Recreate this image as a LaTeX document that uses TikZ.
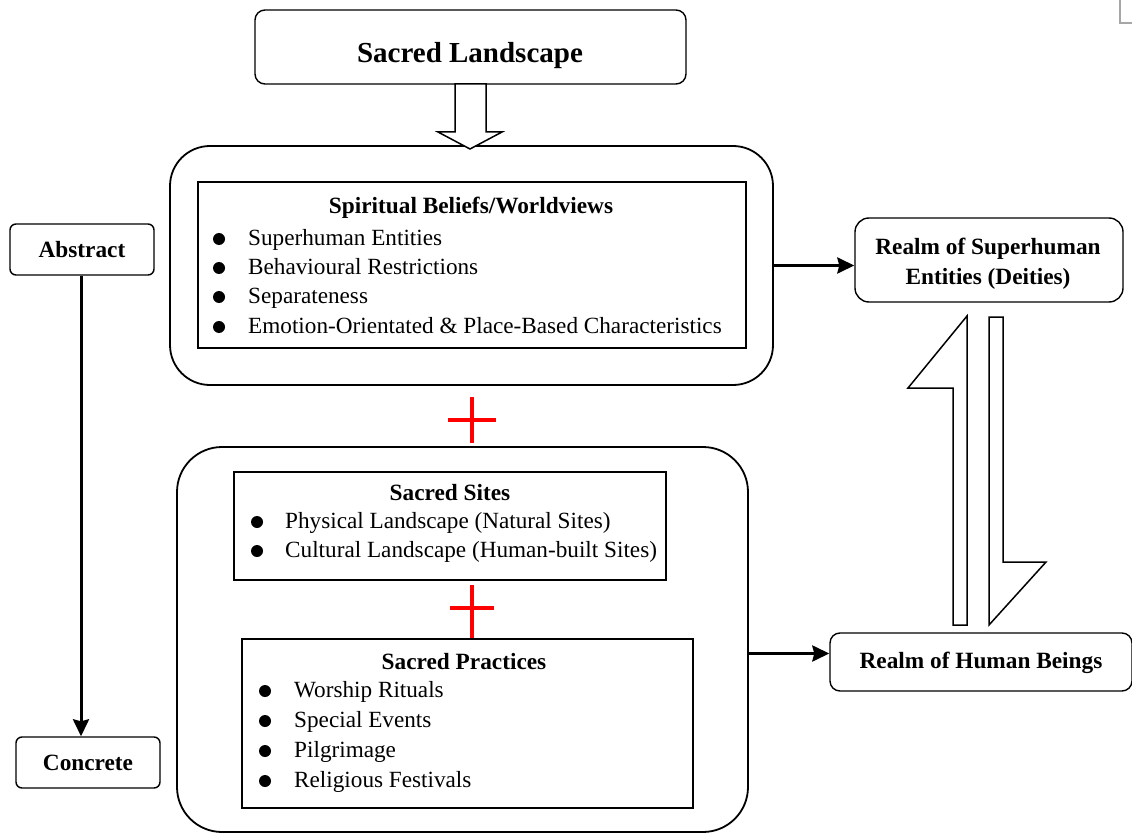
\documentclass[tikz,border=0pt]{standalone}
\usepackage{fontspec}
\setmainfont{Liberation Serif}
\usetikzlibrary{arrows.meta}
\begin{document}
\begin{tikzpicture}[x=1pt,y=-1pt,
  bigbox/.style={draw, line width=1.8pt, rounded corners=40pt, inner sep=0pt},
  rbox/.style={draw, line width=1.4pt, rounded corners=10pt, inner sep=0pt, fill=white},
  ibox/.style={draw, line width=1.3pt, inner sep=0pt},
  ttl/.style={font=\fontsize{23.3}{29}\selectfont\bfseries, inner sep=0pt, align=center, text height=16pt, text depth=0pt},
  itm/.style={font=\fontsize{23.2}{29}\selectfont, inner sep=0pt, anchor=west, text height=15pt, text depth=0pt},
  arr/.style={line width=3pt, -{Stealth[length=17pt,width=16pt,inset=2pt]}},
  hollow/.style={draw, line width=1.5pt, fill=white, line join=miter},
  plus/.style={draw=red, line width=4pt}
]
\useasboundingbox (0,0) rectangle (1132,834);

% top box
\node[rbox, minimum width=431pt, minimum height=74pt] (top) at (470.5,47) {};
\node[font=\fontsize{29}{32}\selectfont\bfseries, inner sep=0pt, text height=19pt, text depth=0pt] (topt) at (470,53) {Sacred Landscape};

% big boxes
\node[bigbox, minimum width=603pt, minimum height=239pt] (big1) at (471.5,265.5) {};
\node[bigbox, rounded corners=45pt, minimum width=571pt, minimum height=385pt] (big2) at (462.5,639.5) {};

% hollow arrow top
\draw[hollow] (455,84) -- (486,84) -- (486,132) -- (502,132) -- (470,149) -- (438,132) -- (455,132) -- cycle;

% inner box 1
\node[ibox, minimum width=548pt, minimum height=166pt] (sb) at (472,265) {};
\node[ttl] (sbt) at (471,206) {Spiritual Beliefs/Worldviews};
\foreach \y/\t [count=\i] in {238/Superhuman Entities, 267/Behavioural Restrictions, 296/Separateness, 326/Emotion-Orientated \& Place-Based Characteristics}{
  \fill (219,\y+1) circle (6pt);
  \node[itm] (sb\i) at (248,\y) {\t};
}

% plus 1
\draw[plus] (448,420) -- (496,420);
\draw[plus] (472,397) -- (472,443);

% Sacred sites
\node[ibox, minimum width=432pt, minimum height=108pt] (ss) at (450,526) {};
\node[ttl] (sst) at (450,492) {Sacred Sites};
\foreach \y/\t [count=\i] in {521/Physical Landscape (Natural Sites), 550/Cultural Landscape (Human-built Sites)}{
  \fill (257,\y+1) circle (6pt);
  \node[itm] (ss\i) at (285,\y) {\t};
}

% plus 2
\draw[plus] (450,608) -- (494,608);
\draw[plus] (472,585) -- (472,639);

% Sacred practices
\node[ibox, minimum width=451pt, minimum height=169pt] (sp) at (467.5,723.5) {};
\node[ttl] (spt) at (464,661) {Sacred Practices};
\foreach \y/\t [count=\i] in {690/Worship Rituals, 720/Special Events, 750/Pilgrimage, 780/Religious Festivals}{
  \fill (265,\y+1) circle (6pt);
  \node[itm] (sp\i) at (294,\y) {\t};
}

% abstract / concrete
\node[rbox, rounded corners=6pt, minimum width=144pt, minimum height=51pt, ttl] (abs) at (82,249.5) {Abstract};
\node[rbox, rounded corners=6pt, minimum width=144pt, minimum height=51pt, ttl] (con) at (88,762.5) {Concrete};
\draw[arr] (abs.south) ++(-1,0) coordinate (a0) -- (a0 |- con.north);

% realms
\node[rbox, rounded corners=14pt, minimum width=268pt, minimum height=84pt] (rs) at (989,260) {};
\node[ttl] (rst) at (988,276) {Realm of Superhuman\\Entities (Deities)};
\node[rbox, rounded corners=10pt, minimum width=302pt, minimum height=58pt, ttl, text height=12pt] (rh) at (981,662) {Realm of Human Beings};

\draw[arr] (big1.east) -- (big1.east -| rs.west);
\draw[arr] ([yshift=-14pt]big2.east) coordinate (b0) -- (b0 -| rh.west);

% half arrows
\draw[hollow] (967,316) -- (967,625) -- (953,625) -- (953,388) -- (908,388) -- cycle;
\draw[hollow] (989,317) -- (1003,317) -- (1003,562) -- (1046,562) -- (989,625) -- cycle;

% corner mark
\draw[gray!70, line width=1.5pt] (1120,0) -- (1120,23) -- (1132,23);
\end{tikzpicture}
\end{document}
